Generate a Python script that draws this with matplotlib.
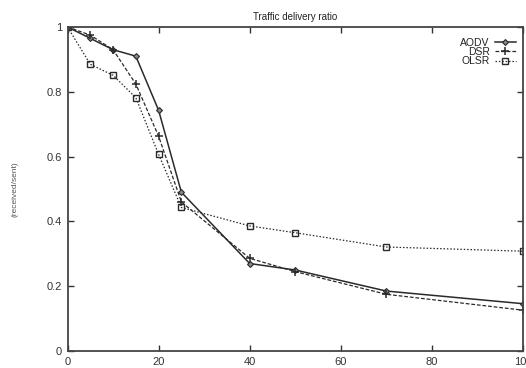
import matplotlib
matplotlib.use("Agg")
import matplotlib.pyplot as plt

plt.rcParams['font.family'] = ['Liberation Sans', 'DejaVu Sans']

# x values (number of ...), one value per series point
x_vals = [0, 5, 10, 15, 20, 25, 40, 50, 70, 100]
aodv = [1.0, 0.965, 0.93, 0.91, 0.743, 0.49, 0.27, 0.25, 0.185, 0.146]
dsr = [1.0, 0.975, 0.93, 0.824, 0.663, 0.46, 0.286, 0.245, 0.175, 0.126]
olsr = [1.0, 0.885, 0.851, 0.782, 0.607, 0.443, 0.386, 0.365, 0.321, 0.308]

x_ticks = [0, 20, 40, 60, 80, 100]
y_ticks = [0, 0.2, 0.4, 0.6, 0.8, 1]
y_tick_labels = ["0", "0.2", "0.4", "0.6", "0.8", "1"]

fig = plt.figure(figsize=(5.26, 3.68), dpi=100)
W, H = 526, 368
left, right, top, bottom = 67.5, 523, 27, 351
ax = fig.add_axes([left / W, 1 - bottom / H, (right - left) / W, (bottom - top) / H])

line_col = '#2a2a2a'
ax.plot(x_vals, aodv, linestyle='-', color=line_col, lw=1.1,
        marker='D', markersize=3, markerfacecolor='#888888', markeredgecolor=line_col,
        markeredgewidth=0.8, label='AODV')
ax.plot(x_vals, dsr, linestyle=(0, (3, 1.5)), color=line_col, lw=0.9,
        marker='+', markersize=6, markeredgewidth=1.1, label='DSR')
ax.plot(x_vals, olsr, linestyle=(0, (1.2, 1.5)), color=line_col, lw=0.9,
        marker='s', markersize=4.5, markerfacecolor='none', markeredgecolor=line_col,
        markeredgewidth=1.0, label='OLSR')

ax.set_xlim(0, 100)
ax.set_ylim(0, 1)
ax.set_xticks(x_ticks)
ax.set_yticks(y_ticks)
ax.set_yticklabels(y_tick_labels)
ax.tick_params(direction='in', length=4, width=1, top=True, right=True,
               labelsize=8, colors='#333333', pad=4)
for s in ax.spines.values():
    s.set_color('#444444')
    s.set_linewidth(1.3)

ax.set_title('Traffic delivery ratio', fontsize=7, pad=5, color='#222222')
ax.set_ylabel('(received/sent)', fontsize=6, color='#555555', labelpad=20)
ax.set_xlabel('# of nodes', fontsize=7, color='#555555', labelpad=6)

leg = ax.legend(loc='upper right', frameon=False, markerfirst=False, fontsize=7.5,
                handlelength=2.0, handletextpad=0.5, labelspacing=-0.05,
                borderaxespad=0.3, bbox_to_anchor=(1.0, 0.99))
for t in leg.get_texts():
    t.set_ha('right')
    t.set_color('#222222')

fig.savefig('out.png', dpi=100)
